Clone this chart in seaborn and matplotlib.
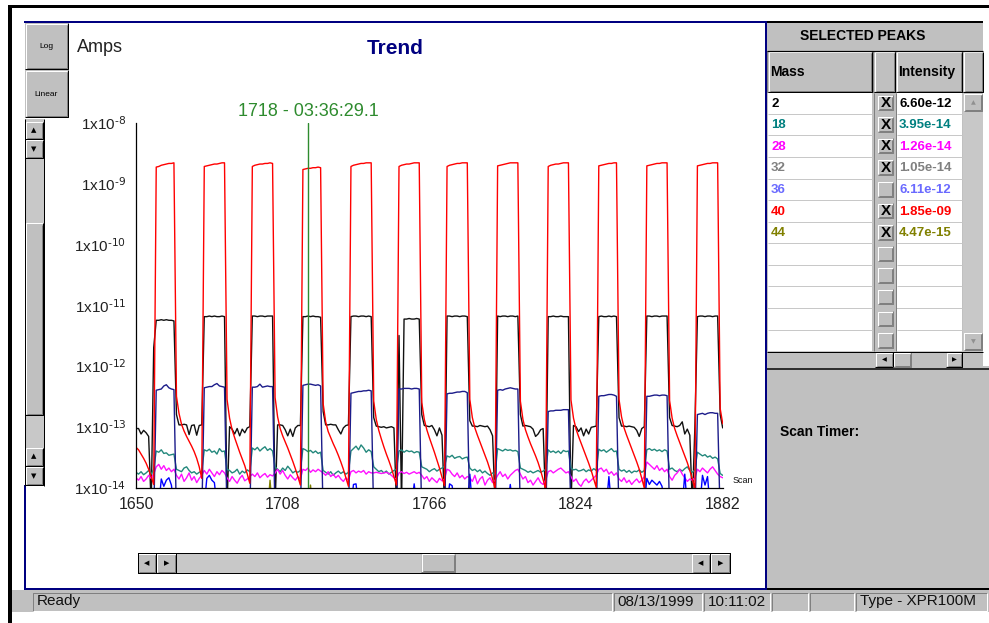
import numpy as np
import pandas as pd
import matplotlib
matplotlib.use("Agg")
import matplotlib.pyplot as plt
import seaborn as sns
from matplotlib.patches import Rectangle
from matplotlib.lines import Line2D
from matplotlib.ticker import FixedLocator, NullFormatter

# ---------------------------------------------------------------- data
scan_first, scan_last = 1650, 1882          # one reading per scan
x_ticks = [1650, 1708, 1766, 1824, 1882]
y_tick_exp = [-14, -13, -12, -11, -10, -9, -8]
cursor_scan = 1718
cursor_label = "1718 - 03:36:29.1"

# log10(current in A), one value per scan 1650..1882
red_log = [
    -13.34, -13.38, -13.45, -13.52, -13.60, -13.70, -13.82, -13.95,
    -8.73, -8.72, -8.70, -8.69, -8.68, -8.67, -8.67, -8.66,
    -12.50, -12.78, -12.96, -13.07, -13.16, -13.24, -13.32, -13.41, -13.52, -13.66, -13.85,
    -8.72, -8.71, -8.70, -8.69, -8.68, -8.68, -8.67, -8.66, -8.66,
    -12.55, -12.86, -13.05, -13.18, -13.30, -13.42, -13.53, -13.64, -13.78, -13.93,
    -8.72, -8.70, -8.69, -8.68, -8.68, -8.67, -8.67, -8.66, -8.67,
    -12.52, -12.84, -13.03, -13.15, -13.25, -13.35, -13.46, -13.57, -13.69, -13.82, -13.96,
    -8.77, -8.76, -8.75, -8.75, -8.74, -8.74, -8.73, -8.74,
    -12.62, -12.92, -13.08, -13.18, -13.28, -13.37, -13.47, -13.58, -13.70, -13.84, -13.98,
    -8.72, -8.70, -8.69, -8.68, -8.67, -8.67, -8.66, -8.66, -8.66,
    -12.58, -12.88, -13.06, -13.20, -13.33, -13.45, -13.56, -13.68, -13.82, -13.96,
    -8.72, -8.70, -8.69, -8.68, -8.68, -8.67, -8.66, -8.66, -8.66,
    -12.60, -12.88, -13.05, -13.18, -13.30, -13.42, -13.55, -13.68, -13.83, -13.97,
    -8.72, -8.70, -8.69, -8.68, -8.67, -8.67, -8.66, -8.66, -8.66,
    -12.55, -12.85, -13.02, -13.14, -13.25, -13.36, -13.47, -13.58, -13.71, -13.86, -14.02,
    -8.71, -8.70, -8.69, -8.68, -8.67, -8.66, -8.66, -8.66, -8.66,
    -12.58, -12.88, -13.05, -13.17, -13.28, -13.38, -13.48, -13.59, -13.72, -13.87, -14.03,
    -8.72, -8.70, -8.69, -8.68, -8.68, -8.67, -8.66, -8.66, -8.66,
    -12.56, -12.86, -13.04, -13.16, -13.27, -13.38, -13.49, -13.60, -13.72, -13.86, -14.00,
    -8.71, -8.70, -8.69, -8.68, -8.67, -8.67, -8.66, -8.66,
    -12.55, -12.84, -13.02, -13.14, -13.25, -13.36, -13.47, -13.58, -13.70, -13.85, -14.01,
    -8.71, -8.70, -8.69, -8.68, -8.67, -8.67, -8.66, -8.66, -8.66,
    -12.57, -12.86, -13.03, -13.15, -13.26, -13.37, -13.48, -13.59, -13.72, -13.86, -14.02,
    -8.71, -8.70, -8.69, -8.68, -8.67, -8.67, -8.66, -8.66, -8.66,
    -12.70, -12.95,
]

black_log = [
    -13.03, -13.03, -13.12, -13.06, -13.10, -13.16, -14.30, -11.70,
    -11.25, -11.25, -11.24, -11.25, -11.24, -11.25, -11.25, -11.26,
    -12.80, -12.97, -12.97, -12.96, -12.97, -13.13, -12.98, -12.97, -13.14, -12.98, -12.97,
    -11.19, -11.19, -11.18, -11.19, -11.18, -11.19, -11.19, -11.18, -11.19,
    -14.30, -13.00, -13.04, -13.12, -13.03, -13.15, -13.04, -13.10, -13.02, -13.00,
    -11.18, -11.18, -11.19, -11.18, -11.18, -11.19, -11.18, -11.18, -11.18,
    -14.30, -12.97, -12.97, -12.98, -13.05, -13.15, -13.04, -13.16, -13.02, -12.98, -12.98,
    -11.19, -11.19, -11.18, -11.19, -11.18, -11.19, -11.19, -11.20,
    -12.75, -12.97, -12.97, -12.96, -12.97, -12.97, -13.05, -13.12, -13.02, -12.98, -12.97,
    -11.19, -11.18, -11.18, -11.19, -11.18, -11.18, -11.19, -11.18, -11.19,
    -12.85, -12.99, -13.00, -13.01, -13.00, -13.02, -13.01, -13.00, -13.02, -14.30,
    -11.50, -14.30, -11.23, -11.23, -11.22, -11.23, -11.23, -11.22, -11.23,
    -12.80, -12.98, -12.99, -13.00, -12.98, -13.05, -13.15, -13.02, -13.14, -14.30,
    -11.18, -11.18, -11.19, -11.18, -11.18, -11.19, -11.18, -11.18, -11.19,
    -12.90, -12.99, -12.99, -13.00, -12.98, -12.99, -13.00, -12.99, -13.05, -13.15, -14.30,
    -11.18, -11.19, -11.18, -11.18, -11.19, -11.18, -11.18, -11.19, -11.18,
    -12.80, -12.99, -12.98, -12.99, -13.00, -13.04, -13.16, -13.12, -13.05, -13.03, -14.30,
    -11.19, -11.19, -11.18, -11.19, -11.19, -11.18, -11.19, -11.19, -11.19,
    -14.30, -12.98, -13.00, -13.08, -13.02, -13.15, -13.04, -13.12, -13.01, -13.00, -12.99,
    -11.19, -11.18, -11.19, -11.19, -11.18, -11.19, -11.18, -11.19,
    -12.85, -12.99, -12.99, -13.00, -12.99, -13.00, -13.01, -13.06, -13.16, -13.03, -13.00,
    -11.18, -11.18, -11.19, -11.18, -11.18, -11.19, -11.18, -11.18, -11.18,
    -12.85, -12.98, -12.99, -13.00, -12.98, -12.92, -13.12, -13.04, -13.14, -14.30, -13.00,
    -11.19, -11.18, -11.18, -11.19, -11.18, -11.18, -11.19, -11.18, -11.18,
    -12.80, -13.02,
]

navy_log = [
    -14.5, -14.5, -14.5, -14.5, -14.5, -14.5, -14.5, -14.5,
    -12.40, -12.39, -12.38, -12.33, -12.31, -12.36, -12.38, -12.39,
    -14.5, -14.5, -14.5, -14.5, -14.5, -14.5, -14.5, -14.5, -14.5, -14.5, -14.5,
    -12.36, -12.35, -12.34, -12.34, -12.31, -12.29, -12.33, -12.34, -12.35,
    -14.5, -14.5, -14.5, -14.5, -14.5, -14.5, -14.5, -14.5, -14.5, -14.5,
    -12.35, -12.35, -12.34, -12.30, -12.35, -12.34, -12.33, -12.34, -12.34,
    -14.5, -14.5, -14.5, -14.5, -14.5, -14.5, -14.5, -14.5, -14.5, -14.5, -14.5,
    -12.32, -12.31, -12.30, -12.30, -12.31, -12.32, -12.31, -12.33,
    -14.5, -14.5, -14.5, -14.5, -14.5, -14.5, -14.5, -14.5, -14.5, -14.5, -14.5,
    -12.45, -12.44, -12.43, -12.42, -12.42, -12.41, -12.41, -12.40, -12.41,
    -14.5, -14.5, -14.5, -14.5, -14.5, -14.5, -14.5, -14.5, -14.5, -14.5,
    -12.38, -12.38, -12.37, -12.37, -12.37, -12.38, -12.37, -12.37, -12.38,
    -14.5, -14.5, -14.5, -14.5, -14.5, -14.5, -14.5, -14.5, -14.5, -14.5,
    -12.46, -12.45, -12.45, -12.44, -12.43, -12.43, -12.42, -12.42, -12.44,
    -14.5, -14.5, -14.5, -14.5, -14.5, -14.5, -14.5, -14.5, -14.5, -14.5, -14.5,
    -12.40, -12.39, -12.40, -12.38, -12.37, -12.36, -12.37, -12.38, -12.38,
    -14.5, -14.5, -14.5, -14.5, -14.5, -14.5, -14.5, -14.5, -14.5, -14.5, -14.5,
    -12.75, -12.74, -12.74, -12.73, -12.73, -12.73, -12.72, -12.72, -12.72,
    -14.5, -14.5, -14.5, -14.5, -14.5, -14.5, -14.5, -14.5, -14.5, -14.5, -14.5,
    -12.50, -12.49, -12.49, -12.48, -12.47, -12.47, -12.48, -12.50,
    -14.5, -14.5, -14.5, -14.5, -14.5, -14.5, -14.5, -14.5, -14.5, -14.5, -14.5,
    -12.50, -12.50, -12.49, -12.48, -12.48, -12.49, -12.48, -12.48, -12.49,
    -14.5, -14.5, -14.5, -14.5, -14.5, -14.5, -14.5, -14.5, -14.5, -14.5, -14.5,
    -12.80, -12.79, -12.78, -12.80, -12.78, -12.77, -12.77, -12.78, -12.78,
    -14.5, -14.5,
]

teal_log = [
    -13.75, -13.78, -13.74, -13.79, -13.76, -13.72, -13.78, -13.70,
    -13.40, -13.42, -13.38, -13.44, -13.43, -13.47, -13.46, -13.45,
    -13.70, -13.72, -13.74, -13.68, -13.66, -13.72, -13.76, -13.74, -13.78, -13.75, -13.73,
    -13.38, -13.40, -13.37, -13.42, -13.40, -13.45, -13.36, -13.41, -13.40,
    -13.70, -13.72, -13.76, -13.74, -13.70, -13.78, -13.73, -13.76, -13.71, -13.74,
    -13.35, -13.38, -13.34, -13.40, -13.36, -13.33, -13.39, -13.36, -13.40,
    -13.66, -13.70, -13.74, -13.68, -13.72, -13.65, -13.70, -13.76, -13.73, -13.75, -13.72,
    -13.36, -13.38, -13.41, -13.39, -13.43, -13.40, -13.44, -13.42,
    -13.72, -13.75, -13.78, -13.74, -13.80, -13.76, -13.73, -13.77, -13.74, -13.78, -13.75,
    -13.40, -13.36, -13.32, -13.38, -13.30, -13.35, -13.42, -13.38, -13.41,
    -13.66, -13.70, -13.74, -13.72, -13.76, -13.73, -13.78, -13.75, -13.72, -13.70,
    -13.40, -13.38, -13.42, -13.39, -13.41, -13.40, -13.43, -13.41, -13.42,
    -13.66, -13.68, -13.70, -13.74, -13.71, -13.69, -13.73, -13.70, -13.68, -13.65,
    -13.48, -13.50, -13.47, -13.52, -13.50, -13.49, -13.53, -13.51, -13.50,
    -13.68, -13.72, -13.70, -13.74, -13.71, -13.76, -13.73, -13.77, -13.80, -13.76, -13.78,
    -13.36, -13.38, -13.40, -13.37, -13.39, -13.38, -13.40, -13.39, -13.41,
    -13.68, -13.70, -13.72, -13.75, -13.73, -13.76, -13.74, -13.72, -13.75, -13.73, -13.70,
    -13.38, -13.42, -13.40, -13.43, -13.40, -13.44, -13.39, -13.41, -13.40,
    -13.68, -13.71, -13.70, -13.73, -13.72, -13.70, -13.74, -13.71, -13.73, -13.69, -13.72,
    -13.37, -13.40, -13.38, -13.42, -13.39, -13.36, -13.41, -13.40,
    -13.70, -13.73, -13.71, -13.75, -13.72, -13.76, -13.73, -13.74, -13.71, -13.75, -13.72,
    -13.38, -13.36, -13.39, -13.37, -13.40, -13.38, -13.41, -13.38, -13.40,
    -13.70, -13.68, -13.72, -13.74, -13.70, -13.73, -13.69, -13.66, -13.72, -13.75, -13.71,
    -13.42, -13.45, -13.48, -13.46, -13.50, -13.48, -13.52, -13.50, -13.53,
    -13.77, -13.80,
]

magenta_log = [
    -13.84, -13.88, -13.82, -13.90, -13.86, -13.80, -13.85, -13.78,
    -13.66, -13.62, -13.70, -13.64, -13.72, -13.68, -13.74, -13.70,
    -13.80, -13.86, -13.78, -13.90, -13.84, -13.76, -13.88, -13.82, -13.92, -13.85, -13.80,
    -13.72, -13.78, -13.70, -13.76, -13.82, -13.74, -13.79, -13.72, -13.76,
    -13.84, -13.90, -13.82, -13.88, -13.93, -13.85, -13.80, -13.89, -13.86, -13.82,
    -13.78, -13.82, -13.76, -13.84, -13.80, -13.77, -13.83, -13.79, -13.81,
    -13.76, -13.70, -13.78, -13.72, -13.80, -13.86, -13.79, -13.84, -13.88, -13.82, -13.86,
    -13.70, -13.72, -13.68, -13.75, -13.71, -13.74, -13.70, -13.73,
    -13.76, -13.80, -13.74, -13.82, -13.78, -13.84, -13.80, -13.86, -13.90, -13.84, -13.88,
    -13.74, -13.72, -13.76, -13.73, -13.75, -13.72, -13.78, -13.74, -13.76,
    -13.76, -13.75, -13.76, -13.77, -13.76, -13.75, -13.77, -13.80, -13.84, -13.86,
    -13.76, -13.74, -13.77, -13.75, -13.78, -13.76, -13.74, -13.77, -13.75,
    -13.80, -13.86, -13.82, -13.90, -13.84, -13.88, -13.92, -13.85, -13.89, -13.86,
    -13.70, -13.72, -13.78, -13.82, -13.76, -13.84, -13.80, -13.86, -13.82,
    -13.84, -13.90, -13.80, -13.94, -13.86, -13.82, -13.96, -13.88, -13.84, -13.92, -13.88,
    -13.80, -13.74, -13.82, -13.78, -13.86, -13.80, -13.76, -13.72, -13.70,
    -13.78, -13.86, -13.82, -13.92, -13.88, -13.96, -13.90, -13.84, -13.92, -13.95, -13.88,
    -13.74, -13.72, -13.76, -13.73, -13.70, -13.68, -13.72, -13.76, -13.74,
    -13.82, -13.90, -13.86, -13.94, -13.98, -13.90, -13.86, -13.92, -13.88, -13.84, -13.80,
    -13.70, -13.68, -13.74, -13.70, -13.78, -13.74, -13.80, -13.76,
    -13.86, -13.90, -13.84, -13.92, -13.88, -13.95, -13.90, -13.86, -13.92, -13.88, -13.82,
    -13.58, -13.62, -13.66, -13.70, -13.64, -13.72, -13.68, -13.74, -13.70,
    -13.82, -13.88, -13.80, -13.76, -13.70, -13.78, -13.84, -13.90, -13.86, -13.88, -13.84,
    -13.70, -13.74, -13.68, -13.72, -13.76, -13.70, -13.66, -13.72, -13.78,
    -13.82, -13.84,
]

# sparse series (only the scans where they show up near the floor)
blue_scans = [1650, 1659, 1660, 1661, 1662, 1663, 1664, 1665,
              1677, 1678, 1679, 1680, 1681, 1682,
              1735, 1736, 1737, 1738,
              1759, 1760, 1761,
              1773, 1774, 1775, 1776,
              1781, 1782, 1783,
              1797, 1798, 1799,
              1836, 1837, 1838,
              1851, 1852, 1853, 1854, 1855, 1856, 1857, 1858, 1859,
              1866, 1867, 1868,
              1873, 1874, 1875, 1876, 1877,
              1882]
blue_log = [-14.3, -14.3, -13.86, -13.98, -13.88, -13.84, -13.96, -14.3,
            -14.3, -13.85, -13.80, -13.88, -13.92, -14.3,
            -14.3, -13.95, -13.94, -14.3,
            -14.3, -13.94, -14.3,
            -14.3, -13.94, -13.97, -14.3,
            -14.3, -13.78, -14.3,
            -14.3, -13.95, -14.3,
            -14.3, -13.82, -14.3,
            -14.3, -13.85, -13.95, -13.88, -13.92, -13.96, -13.90, -13.98, -14.3,
            -14.3, -13.78, -14.3,
            -14.3, -13.80, -13.96, -13.82, -14.3,
            -14.3]
olive_scans = [1650, 1702, 1703, 1704, 1718, 1719, 1720, 1882]
olive_log = [-14.4, -14.4, -13.88, -14.4, -14.4, -13.96, -14.4, -14.4]

# selected-peaks table
peak_mass = ["2", "18", "28", "32", "36", "40", "44"]
peak_intensity = ["6.60e-12", "3.95e-14", "1.26e-14", "1.05e-14", "6.11e-12", "1.85e-09", "4.47e-15"]
peak_selected = [True, True, True, True, False, True, True]
peak_text_color = ["#000000", "#008080", "#ff00ff", "#808080", "#6a6aff", "#ff0000", "#808000"]

status_texts = ["Ready", "08/13/1999", "10:11:02", "", "", "Type - XPR100M"]

# ---------------------------------------------------------------- build frame
scans = np.arange(scan_first, scan_last + 1)
series_defs = [
    ("black", scans, black_log),
    ("teal", scans, teal_log),
    ("magenta", scans, magenta_log),
    ("blue", blue_scans, blue_log),
    ("olive", olive_scans, olive_log),
    ("navy", scans, navy_log),
    ("red", scans, red_log),
]
frames = []
for name, xs, ys in series_defs:
    if len(xs) != len(ys):
        raise ValueError(f"{name}: {len(xs)} scans vs {len(ys)} values")
    frames.append(pd.DataFrame({"scan": np.asarray(xs, float),
                                "amps": 10.0 ** np.asarray(ys, float),
                                "series": name}))
df = pd.concat(frames, ignore_index=True)
order = [s[0] for s in series_defs]
palette = {"black": "#111111", "teal": "#23887c", "magenta": "#ff10ff",
           "blue": "#0000ff", "olive": "#808000", "navy": "#1c1c8a", "red": "#ff0000"}

# ---------------------------------------------------------------- figure
sns.set_style("white")
plt.rcParams["font.family"] = ["Liberation Sans", "DejaVu Sans"]
plt.rcParams["mathtext.default"] = "regular"

W, H = 989, 623
PT = 0.72
fig = plt.figure(figsize=(W / 100, H / 100), dpi=100)
fig.patch.set_facecolor("white")

ax_l, ax_r, ax_t, ax_b = 136, 722.7, 122.7, 487.5
ax = fig.add_axes([ax_l / W, 1 - ax_b / H, (ax_r - ax_l) / W, (ax_b - ax_t) / H])
ax.set_facecolor("none")

sns.lineplot(data=df, x="scan", y="amps", hue="series", hue_order=order,
             palette=palette, estimator=None, sort=False, legend=False,
             linewidth=1.0, ax=ax)
ax.set_yscale("log")
ax.set_xlim(scan_first, scan_last)
ax.set_ylim(10.0 ** y_tick_exp[0], 10.0 ** y_tick_exp[-1])
ax.set_xlabel("")
ax.set_ylabel("")
for s in ("top", "right"):
    ax.spines[s].set_visible(False)
for s in ("left", "bottom"):
    ax.spines[s].set_color("black")
    ax.spines[s].set_linewidth(0.9)

ax.set_xticks(x_ticks)
ax.set_xticklabels([str(t) for t in x_ticks])
ax.xaxis.set_minor_locator(FixedLocator(np.linspace(x_ticks[0], x_ticks[-1], 41)))
ax.set_yticks([10.0 ** e for e in y_tick_exp])
ax.set_yticklabels([r"$1x10^{\text{%d}}$" % e for e in y_tick_exp])
ax.yaxis.set_minor_locator(FixedLocator(
    [10.0 ** (e + j / 10) for e in y_tick_exp[:-1] for j in range(1, 10)]))
ax.yaxis.set_minor_formatter(NullFormatter())
ax.tick_params(axis="both", which="major", direction="out", length=4.5, width=0.8,
               colors="black", labelcolor="#222222")
ax.tick_params(axis="both", which="minor", direction="out", length=2.2, width=0.7,
               colors="black")
ax.tick_params(axis="x", labelsize=11.5, pad=2)
ax.tick_params(axis="y", labelsize=11, pad=2.5)

# cursor
green = "#2e8b2e"
ax.axvline(cursor_scan, color=green, linewidth=1.0, zorder=5)
ax.text(cursor_scan, 1.03, cursor_label, transform=ax.get_xaxis_transform(),
        ha="center", va="center", fontsize=13, color=green)
ax.text(1.016, 0.02, "Scan", transform=ax.transAxes, fontsize=6.5,
        ha="left", va="center", color="#111111")


# ---------------------------------------------------------------- window chrome
def fx(x):
    return x / W


def fy(y):
    return 1 - y / H


def rect(x0, y0, x1, y1, fc, z=2):
    fig.add_artist(Rectangle((fx(x0), fy(y1)), (x1 - x0) / W, (y1 - y0) / H,
                             transform=fig.transFigure, facecolor=fc,
                             edgecolor="none", linewidth=0, zorder=z))


def line(xs, ys, color, px=1.0, z=3):
    fig.add_artist(Line2D([fx(x) for x in xs], [fy(y) for y in ys],
                          transform=fig.transFigure, color=color,
                          linewidth=px * PT, zorder=z, solid_capstyle="butt"))


def button(x0, y0, x1, y1, fc="#c0c0c0", z=2, outline="#000000"):
    rect(x0, y0, x1, y1, fc, z)
    line([x0 + 0.5, x0 + 0.5, x1 - 1], [y1 - 1, y0 + 0.5, y0 + 0.5], "#ffffff", 1, z + 0.1)
    line([x0 + 1.5, x1 - 1.5, x1 - 1.5], [y1 - 1.5, y1 - 1.5, y0 + 1.5], "#808080", 1, z + 0.1)
    line([x0, x1 - 0.5, x1 - 0.5], [y1 - 0.5, y1 - 0.5, y0], outline, 1, z + 0.2)


def sunken(x0, y0, x1, y1, z=2):
    line([x0, x0, x1], [y1, y0, y0], "#808080", 1, z + 0.1)
    line([x0, x1, x1], [y1, y1, y0], "#ffffff", 1, z + 0.1)


def label(x, y, s, size, color="black", weight="normal", ha="left", family=None, z=6):
    kw = {"family": family} if family else {}
    fig.text(fx(x), fy(y), s, fontsize=size, color=color, fontweight=weight,
             ha=ha, va="center", zorder=z, **kw)


def glyph(x, y, s, color="black", size=5):
    label(x, y, s, size, color=color, ha="center", family="DejaVu Sans")


GRAY = "#c0c0c0"
NAVY = "#000080"

# outer window frame
rect(8, 5, 989, 8, "black")
rect(8, 5, 12, 623, "black")

# chart panel border
rect(24, 21, 767, 23, NAVY)
rect(765, 21, 767, 590, NAVY)
rect(24, 588, 767, 590, NAVY)
rect(24, 485, 25.5, 590, NAVY)

# Log / Linear buttons
button(25, 23, 68, 69.5)
button(25, 70, 68, 117)
label(46.5, 47, "Log", 6, ha="center")
label(46.5, 94, "Linear", 6, ha="center")

# left vertical scrollbar
rect(25, 119, 43.5, 486, "#c8c8c8")
line([25, 25], [119, 486], "#000000", 1)
line([43.5, 43.5], [119, 486], "#000000", 1)
button(25, 121.5, 43.5, 139.5)
button(25, 140, 43.5, 158)
glyph(34, 130.5, "\u25B2", size=5)
glyph(34, 149, "\u25BC", size=5)
button(25, 223, 43.5, 415)
button(25, 447.5, 43.5, 466)
button(25, 466.5, 43.5, 485)
glyph(34, 456.5, "\u25B2", size=5)
glyph(34, 476, "\u25BC", size=5)

# chart titles
label(77, 48, "Amps", 13, color="#222222")
label(395, 48, "Trend", 15, color=NAVY, weight="bold", ha="center")

# horizontal scrollbar under chart
rect(137.5, 553, 730, 573, "#c8c8c8")
line([137.5, 730, 730, 137.5, 137.5], [553, 553, 573, 573, 553], "#000000", 1)
for (a, b, g) in [(137.5, 156.5, "\u25C0"), (156.5, 176.5, "\u25B6"),
                  (691.5, 710.5, "\u25C0"), (710.5, 730, "\u25B6")]:
    button(a, 553, b, 573)
    glyph((a + b) / 2, 563, g, size=5)
button(421, 553.5, 455, 572.5, outline="#808080")

# right panel
rect(767, 23, 983, 370, GRAY)
rect(767, 366, 989, 588, GRAY)
rect(767, 21, 983, 23, "black")
rect(767, 587.5, 989, 590, "black")
label(863, 35.5, "SELECTED PEAKS", 10, weight="bold", ha="center")
line([767, 983], [50.5, 50.5], "#000000", 1.2)
rect(767, 51, 983, 92.5, "#808080")
button(768, 51.5, 872, 92)
button(874, 51.5, 895, 92)
button(896, 51.5, 962, 92)
button(963, 51.5, 983, 92)
label(770.5, 72, "Mass", 10, weight="bold")
label(898, 72, "Intensity", 10, weight="bold")

row_top, row_h, n_rows = 92.7, 21.58, 12
for i in range(n_rows):
    t = row_top + i * row_h
    b = t + row_h
    rect(768, t, 872, b, "white")
    rect(896.5, t, 962, b, "white")
    line([768, 872], [b - 0.5, b - 0.5], "#c8c8c8", 1)
    line([896.5, 962], [b - 0.5, b - 0.5], "#c8c8c8", 1)
    button(877.5, t + 2.5, 893.5, t + 18, outline="#808080")
for i, (m, inten, sel, col) in enumerate(zip(peak_mass, peak_intensity,
                                              peak_selected, peak_text_color)):
    yc = row_top + i * row_h + 11
    label(771, yc, m, 9.5, color=col, weight="bold")
    label(899, yc, inten, 9.5, color=col, weight="bold")
    if sel:
        label(885.5, yc - 0.5, "X", 11, weight="heavy", ha="center")
line([873.5, 873.5], [92.7, 351], "#808080", 1)
line([895.5, 895.5], [92.7, 351], "#808080", 1)

# vertical scroll of the table
rect(962.5, 92.7, 983, 351, "#c8c8c8")
button(963.5, 93.5, 982.5, 111.5, outline="#808080")
button(963.5, 332.5, 982.5, 350.5, outline="#808080")
glyph(973, 102.5, "\u25B2", color="#909090", size=4.5)
glyph(973, 341.5, "\u25BC", color="#909090", size=4.5)

# horizontal scroll of the table
rect(767, 351.5, 983, 367, GRAY)
line([767, 983], [351.5, 351.5], "#000000", 1)
button(875, 352, 893, 367)
button(893, 352, 911, 367, outline="#808080")
button(946, 352, 962, 367)
glyph(884, 359.5, "\u25C0", size=4.5)
glyph(954, 359.5, "\u25B6", size=4.5)
line([767, 989], [368.5, 368.5], "#303030", 2)

label(780, 432, "Scan Timer:", 10, weight="bold")

# status bar
rect(12, 590, 989, 612, GRAY)
panels = [(33, 612), (614, 702), (704, 770), (772, 808), (810, 854), (856, 987)]
for (a, b), s in zip(panels, status_texts):
    sunken(a, 593, b, 610.5)
    if s:
        label(a + 3.5, 601.5, s, 11, color="#111111")

fig.savefig("out.png", dpi=100, facecolor="white")
